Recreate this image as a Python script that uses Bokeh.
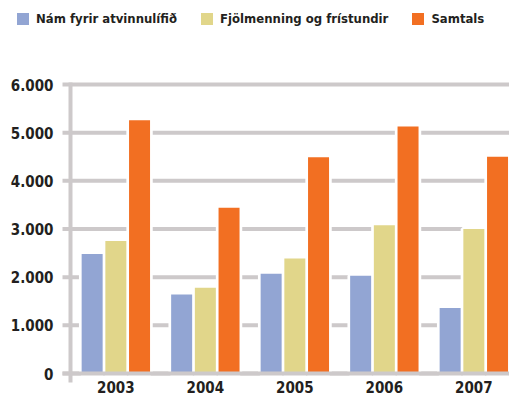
from bokeh.plotting import figure
from bokeh.models import ColumnDataSource, Range1d, LabelSet, Legend, LegendItem
from bokeh.core.properties import value
from bokeh.embed import file_html
from bokeh.resources import INLINE

years = ["2003", "2004", "2005", "2006", "2007"]
nam = [2480, 1640, 2070, 2030, 1360]
fjol = [2750, 1780, 2390, 3080, 3000]
samtals = [5260, 3440, 4490, 5130, 4500]
series_names = ["Nám fyrir atvinnulífið", "Fjölmenning og frístundir", "Samtals"]
colors = ["#92a5d3", "#e1d68a", "#f26f22"]
yticks = [0, 1000, 2000, 3000, 4000, 5000, 6000]
ytick_labels = ["0", "1.000", "2.000", "3.000", "4.000", "5.000", "6.000"]

FONT = "'DejaVu Sans Condensed', 'DejaVu Sans', sans-serif"
TEXT = "#231f20"
GRID = "#cdc9ca"

X0, X1 = -1.2888, 4.3984        # x range (group index units)
Y0, Y1 = -477.5, 7744           # y range (value units)
AXIS_X = -0.5067                # where the value axis sits
TICK = 8 / 89.5                 # tick length in x units
AX_LO, AX_HI = -187, 6041       # extent of the value axis line

p = figure(width=509, height=396, output_backend="svg", toolbar_location=None,
           x_range=Range1d(X0, X1), y_range=Range1d(Y0, Y1),
           x_axis_type=None, y_axis_type=None,
           min_border_left=0, min_border_right=0, min_border_top=0, min_border_bottom=0)
p.outline_line_color = None

n_t = len(yticks)
# gridlines + tick marks (one segment per tick)
p.segment(x0=[AXIS_X - TICK] * n_t, y0=yticks, x1=[X1] * n_t, y1=yticks,
          line_color=GRID, line_width=4)
# axis line
p.segment(x0=[AXIS_X], y0=[AX_LO], x1=[AXIS_X], y1=[AX_HI], line_color=GRID, line_width=4)

idx = list(range(len(years)))
offsets = [-0.2648, 0.0, 0.2648]
bw = 0.2346
series = [nam, fjol, samtals]

for off, vals in zip(offsets, series):
    src = ColumnDataSource(dict(x=[i + off for i in idx], top=vals))
    p.vbar(x="x", top="top", bottom=0, width=bw, source=src,
           fill_color="white", line_color="white", line_width=5.4)

renderers = []
for off, vals, col in zip(offsets, series, colors):
    src = ColumnDataSource(dict(x=[i + off for i in idx], top=vals))
    renderers.append(p.vbar(x="x", top="top", bottom=0, width=bw, source=src,
                            fill_color=col, line_color=None))

# baseline drawn over the bar feet
p.segment(x0=[AXIS_X - TICK], y0=[yticks[0]], x1=[X1], y1=[yticks[0]],
          line_color=GRID, line_width=4)

ylab_src = ColumnDataSource(dict(x=[AXIS_X] * n_t, y=yticks, text=ytick_labels))
p.add_layout(LabelSet(x="x", y="y", text="text", source=ylab_src, x_offset=-17,
                      text_align="right", text_baseline="middle", text_font=value(FONT),
                      text_font_style="bold", text_font_size="15px", text_color=TEXT))

lab_src = ColumnDataSource(dict(x=idx, y=[0] * len(idx), text=years))
p.add_layout(LabelSet(x="x", y="y", text="text", source=lab_src, y_offset=-19,
                      text_align="center", text_baseline="alphabetic", text_font=value(FONT),
                      text_font_style="bold", text_font_size="15px", text_color=TEXT))

legend = Legend(items=[LegendItem(label=n, renderers=[r]) for n, r in zip(series_names, renderers)],
                orientation="horizontal", location=(15, 370), glyph_width=15, glyph_height=15,
                label_height=15, label_standoff=6, spacing=22, padding=0, margin=0,
                border_line_color=None, background_fill_alpha=0, label_text_font=FONT,
                label_text_font_style="bold", label_text_font_size="13px", label_text_color=TEXT)
p.add_layout(legend)

open("out.html", "w").write(file_html(p, INLINE))
